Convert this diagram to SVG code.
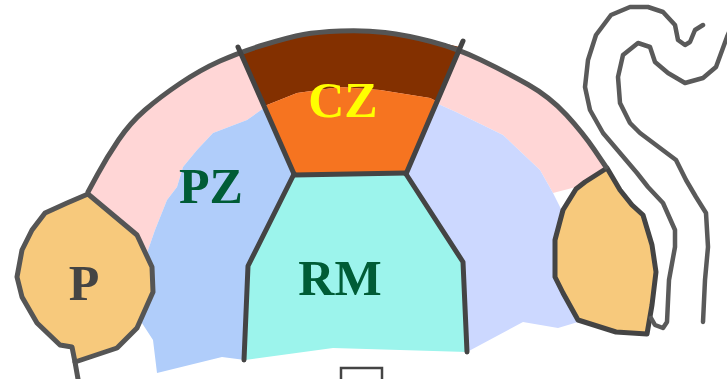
<svg xmlns="http://www.w3.org/2000/svg" width="727" height="379" viewBox="0 0 727 379">
  <style>
    .edge { fill: none; stroke: #444; stroke-width: 5; stroke-linejoin: round; stroke-linecap: round; }
    .rim { fill: none; stroke: #555; stroke-width: 5; stroke-linejoin: round; stroke-linecap: round; }
    .curl { fill: none; stroke: #5a5a5a; stroke-width: 4.5; stroke-linejoin: round; stroke-linecap: round; }
    .lbl { font-family: "Liberation Serif", "Times New Roman", serif; font-weight: bold; font-size: 50px; text-anchor: middle; }
  </style>
  <rect width="727" height="379" fill="#ffffff"/>

  <!-- outer pink band -->
  <g id="band">
    <polygon fill="#FFD6D6" points="88,192 107,157 130,123 160,97 200,70 240,52 290,37 317,32 364,30 406,35 456,48 506,72 550,97 583,133 606,167 576,187 553,193 540,170 503,135 456,112 436,103 350,95 264,108 247,120 213,133 197,150 183,167 177,187 167,200 155,230 147,253 137,235"/>
  </g>

  <!-- peripheral zone -->
  <g id="pz-left">
    <polygon fill="#B0CDFA" points="264,108 247,120 213,133 197,150 183,167 177,187 167,200 155,230 147,253 140,280 140,320 153,340 157,373 222,357 245,360 248,266 294,174"/>
    <text class="lbl" x="211" y="203" fill="#005C36">PZ</text>
  </g>
  <g id="pz-right">
    <polygon fill="#CCD8FF" points="436,103 456,112 503,135 540,170 553,193 563,213 556,240 556,278 578,322 558,328 523,322 467,352 463,262 406,174"/>
  </g>

  <!-- central zone -->
  <g id="cz">
    <polygon fill="#833000" points="240,52 290,37 317,32 364,30 406,35 460,47 438,102 430,98 380,90 340,87 297,93 267,105 263,107"/>
    <polygon fill="#F67420" points="263,107 267,105 297,93 340,87 380,90 430,98 438,102 406,174 294,174"/>
    <text class="lbl" x="343" y="117" fill="#FFFF00">CZ</text>
  </g>

  <!-- rib meristem -->
  <g id="rm">
    <polygon fill="#9CF4EC" points="294,174 406,174 463,262 467,352 333,348 245,360 248,266"/>
    <text class="lbl" x="340" y="295" fill="#005C36">RM</text>
  </g>

  <!-- primordia -->
  <g id="p-left">
    <path fill="#F7C97C" stroke="#555" stroke-width="5" stroke-linejoin="round" d="M88,194 L67,203 L45,213 L32,230 L22,250 L17,277 L22,297 L37,323 L60,345 L72,347 L75,362 L117,348 L137,328 L153,292 L152,267 L137,235 Z"/>
    <line class="rim" x1="75" y1="362" x2="78" y2="379"/>
    <text class="lbl" x="84" y="300" fill="#444">P</text>
  </g>
  <g id="p-right">
    <path fill="#F7C97C" stroke="#444" stroke-width="5" stroke-linejoin="round" d="M607,168 L585,182 L576,189 L563,210 L555,240 L555,277 L563,293 L578,320 L616,332 L647,334 L652,305 L656,272 L652,245 L643,215 L632,205 L620,190 Z"/>
  </g>

  <!-- boundaries and outlines -->
  <g id="connectors">
    <path class="rim" d="M88,192 L97.5,174.5 Q107,157 118.5,140 Q130,123 145,110 Q160,97 180,83.5 Q200,70 220,61 Q240,52 265,44.5 Q290,37 303.5,34.5 Q317,32 340.5,31 Q364,30 385,32.5 Q406,35 431,41.5 Q456,48 481,60 Q506,72 528,84.5 Q550,97 566.5,115 Q583,133 594.5,150 L606,167"/>
    <line class="edge" x1="238" y1="47" x2="294" y2="174"/>
    <line class="edge" x1="463" y1="41" x2="406" y2="174"/>
    <line class="edge" x1="294" y1="175" x2="406" y2="173"/>
    <polyline class="edge" points="294,174 248,266 244,360"/>
    <polyline class="edge" points="406,174 463,262 467,352"/>
    <polyline class="curl" points="651,318 655,325 663,328 667,322 669,280 675,247 675,230 663,203 648,187 637,173 620,153 603,133 590,110 585,87 588,60 596,35 611,15 630,7 648,7 663,12 675,25 678,40 685,45 690,42 695,30 703,25"/>
    <polyline class="curl" points="703,322 705,280 708,247 706,213 696,197 686,180 676,160 640,133 630,123 620,103 618,77 623,55 638,43 650,47 655,62 668,73 685,83 703,78 716,67 727,37 730,30"/>
    <rect x="341" y="368" width="41" height="20" fill="#ffffff" stroke="#444" stroke-width="2.5"/>
  </g>
</svg>
